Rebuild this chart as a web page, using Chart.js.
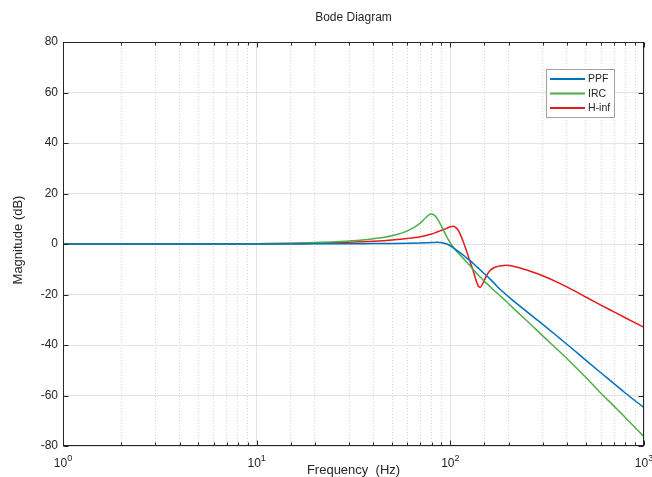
<!DOCTYPE html>
<html><head><meta charset="utf-8">
<script src="https://cdn.jsdelivr.net/npm/chart.js@4.4.1/dist/chart.umd.min.js"></script>
<style>html,body{margin:0;padding:0;background:#fff}#wrap{width:652px;height:477px;position:relative}</style>
</head><body><div id="wrap"><canvas id="c" width="652" height="477"></canvas></div>
<script>
// ---- data ----
const freqHz = [1, 2, 5, 10, 15, 20, 27, 35, 40, 50, 60, 70, 75, 79.4, 82, 85, 88.4, 92, 95.7, 100,
  103.5, 106, 110, 113, 116.6, 120, 123.5, 127, 131, 134, 136, 138, 140, 143, 147, 151, 156, 161, 166,
  173, 180, 195, 211, 250, 300, 365, 428, 500, 592, 700, 800, 1000];
const ppfDb = [0, 0, 0, 0, 0.02, 0.05, 0.08, 0.12, 0.15, 0.22, 0.3, 0.42, 0.5, 0.58, 0.62, 0.65, 0.6, 0.4, 0.0, -0.7,
  -1.5, -2.0, -2.9, -3.6, -4.4, -5.2, -6.0, -6.7, -7.6, -8.3, -8.8, -9.2, -9.7, -10.3, -11.2, -12.0, -13.0, -14.0, -15.0,
  -16.5, -17.8, -20.2, -22.4, -27.0, -31.8, -37.2, -41.6, -46.0, -50.7, -55.3, -59.0, -64.8];
const ircDb = [0, 0, 0.02, 0.1, 0.3, 0.6, 1.0, 1.6, 2.1, 3.3, 5.2, 8.3, 10.6, 11.9, 11.6, 10.4, 8.2, 5.6, 2.9, 0.4,
  -1.2, -2.3, -3.6, -4.6, -5.7, -6.7, -7.8, -8.8, -10.1, -10.9, -11.5, -12.0, -12.5, -13.2, -14.1, -15.0, -16.0, -17.0, -18.0,
  -19.2, -20.4, -22.8, -25.4, -30.6, -36.4, -42.5, -47.6, -52.8, -58.7, -64.2, -68.7, -76.3];
const hinfDb = [0, 0, 0.02, 0.08, 0.2, 0.35, 0.6, 0.9, 1.1, 1.6, 2.2, 2.9, 3.4, 3.9, 4.2, 4.7, 5.2, 5.7, 6.2, 6.8,
  7.0, 6.7, 5.4, 3.5, 0.9, -1.8, -4.6, -7.5, -10.4, -13.0, -14.6, -15.9, -16.9, -17.1, -15.7, -13.8, -11.7, -10.4, -9.6,
  -9.0, -8.7, -8.4, -8.8, -10.4, -12.6, -15.5, -18.2, -21.0, -24.0, -26.9, -29.2, -33.0];
const seriesNames = ['PPF', 'IRC', 'H-inf'];
const seriesColors = ['#0072BD', '#4DAF4A', '#E41A1C'];
const xTickValues = [1, 10, 100, 1000];
const xTickBase = ['10', '10', '10', '10'];
const xTickExp = ['0', '1', '2', '3'];
const yMin = -80, yMax = 80, yStep = 20;
const titleText = 'Bode Diagram';
const xLabelText = 'Frequency  (Hz)';
const yLabelText = 'Magnitude (dB)';

const FONT = '"Liberation Sans", Arial, Helvetica, sans-serif';
const isMajor = v => Math.abs(Math.log10(v) - Math.round(Math.log10(v))) < 1e-9;

function mk(vals) { return freqHz.map((f, i) => ({x: f, y: vals[i]})); }

const decor = {
  id: 'decor',
  afterDraw(chart) {
    const {ctx, chartArea: a, scales: {x, y}} = chart;
    const L = Math.round(a.left) + 0.5, R = Math.round(a.right) - 0.5;
    const T = Math.round(a.top) + 0.5, B = Math.round(a.bottom) - 0.5;
    ctx.save();
    ctx.strokeStyle = '#262626';
    ctx.lineWidth = 1;
    ctx.beginPath();
    x.ticks.forEach(t => {
      const px = Math.round(x.getPixelForValue(t.value)) + 0.5;
      const len = isMajor(t.value) ? 5 : 3;
      ctx.moveTo(px, B); ctx.lineTo(px, B - len);
      ctx.moveTo(px, T); ctx.lineTo(px, T + len);
    });
    y.ticks.forEach(t => {
      const py = Math.round(y.getPixelForValue(t.value)) + 0.5;
      ctx.moveTo(L, py); ctx.lineTo(L + 5, py);
      ctx.moveTo(R, py); ctx.lineTo(R - 5, py);
    });
    ctx.stroke();
    ctx.strokeRect(L, T, R - L, B - T);

    ctx.fillStyle = '#262626';
    ctx.textBaseline = 'alphabetic';
    ctx.textAlign = 'left';
    xTickValues.forEach((v, i) => {
      const px = x.getPixelForValue(v);
      ctx.font = '12px ' + FONT;
      const w1 = ctx.measureText(xTickBase[i]).width;
      ctx.font = '9px ' + FONT;
      const w2 = ctx.measureText(xTickExp[i]).width;
      const x0 = px - (w1 + w2) / 2;
      ctx.font = '12px ' + FONT;
      ctx.fillText(xTickBase[i], x0, 467);
      ctx.font = '9px ' + FONT;
      ctx.fillText(xTickExp[i], x0 + w1, 461);
    });

    ctx.textAlign = 'center';
    ctx.textBaseline = 'middle';
    ctx.font = '12px ' + FONT;
    ctx.fillText(titleText, (a.left + a.right) / 2, 18);
    ctx.font = '13px ' + FONT;
    ctx.fillText(xLabelText, (a.left + a.right) / 2, 470);
    ctx.save();
    ctx.translate(18, (a.top + a.bottom) / 2 - 4);
    ctx.rotate(-Math.PI / 2);
    ctx.fillText(yLabelText, 0, 0);
    ctx.restore();

    const lx = 546.5, ly = 69.5, lw = 68, lh = 48;
    ctx.fillStyle = '#ffffff';
    ctx.fillRect(lx, ly, lw, lh);
    ctx.strokeStyle = '#a0a0a0';
    ctx.strokeRect(lx, ly, lw, lh);
    ctx.font = '10.5px ' + FONT;
    ctx.textAlign = 'left';
    ctx.textBaseline = 'middle';
    seriesNames.forEach((n, i) => {
      const ry = 79 + i * 14.5;
      ctx.strokeStyle = seriesColors[i];
      ctx.lineWidth = 2;
      ctx.beginPath(); ctx.moveTo(550, ry); ctx.lineTo(585, ry); ctx.stroke();
      ctx.fillStyle = '#262626';
      ctx.fillText(n, 588, ry + 0.5);
    });
    ctx.restore();
  }
};

new Chart(document.getElementById('c'), {
  type: 'scatter',
  data: {
    datasets: [ppfDb, ircDb, hinfDb].map((vals, i) => ({
      label: seriesNames[i],
      data: mk(vals),
      showLine: true,
      borderColor: seriesColors[i],
      backgroundColor: seriesColors[i],
      borderWidth: 1.5,
      pointRadius: 0,
      pointHoverRadius: 0,
      cubicInterpolationMode: 'monotone',
      fill: false
    }))
  },
  options: {
    responsive: false,
    animation: false,
    devicePixelRatio: 1,
    events: [],
    layout: {padding: {left: 0, right: 8, top: 42, bottom: 0}},
    plugins: {legend: {display: false}, title: {display: false}, tooltip: {enabled: false}},
    scales: {
      x: {
        type: 'logarithmic',
        min: 1, max: 1000,
        afterFit: s => { s.height = 31; },
        ticks: {display: false, autoSkip: false},
        grid: {
          drawTicks: false,
          color: c => (c.tick && isMajor(c.tick.value)) ? '#e3e3e3' : '#d6d6d6',
          lineWidth: 1
        },
        border: {
          display: false,
          dash: c => (c.tick && !isMajor(c.tick.value)) ? [1, 2] : []
        }
      },
      y: {
        min: yMin, max: yMax,
        afterFit: s => { s.width = 63; },
        ticks: {stepSize: yStep, padding: 5, color: '#262626', font: {family: FONT, size: 12}},
        grid: {drawTicks: false, color: '#e3e3e3', lineWidth: 1},
        border: {display: false}
      }
    }
  },
  plugins: [decor]
});
</script>
</body></html>
